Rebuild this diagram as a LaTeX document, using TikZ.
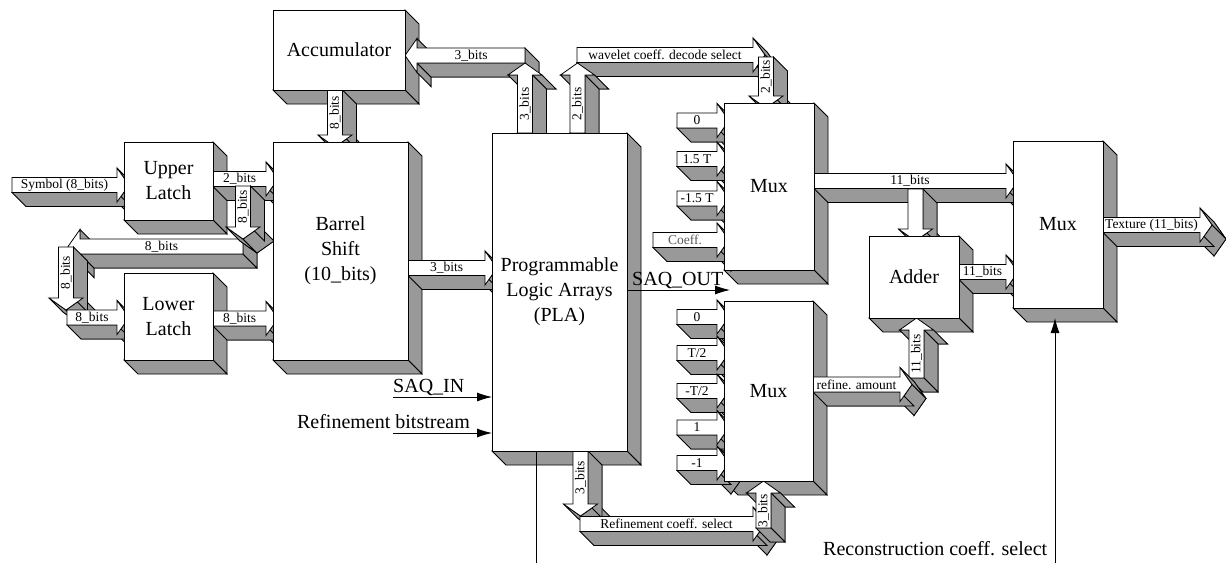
\documentclass[tikz,border=0pt]{standalone}
\usepackage{fontspec}
\setmainfont{Liberation Serif}
\usetikzlibrary{arrows.meta,calc}
\definecolor{sideC}{RGB}{153,153,153}
\definecolor{dimC}{RGB}{90,90,90}
\pgfdeclarelayer{sides}
\pgfdeclarelayer{wires}
\pgfsetlayers{sides,wires,main}

% bus geometry (pixel units)
\newcommand{\shaftW}{7.5}
\newcommand{\headW}{17}
\newcommand{\headL}{12}
\newcommand{\extr}{14}

% extruded side faces of a block
\newcommand{\blkside}[1]{%
  \draw[side] (#1.north east) -- ++(\extr,\extr) -- ([shift={(\extr,\extr)}]#1.south east) -- (#1.south east) -- cycle;
  \draw[side] (#1.south west) -- (#1.south east) -- ([shift={(\extr,\extr)}]#1.south east) -- ([shift={(\extr,\extr)}]#1.south west) -- cycle;}

% 3-D bus pointing right: [label style]{name}{tail x}{tip x}{y}{label}
\newcommand{\barR}[6][]{%
  \begin{scope}[shift={(#4,#5)}]
    \pgfmathsetmacro\blen{#4-#3}
    \def\bpoly{(-\blen,-\shaftW) -- (-\headL,-\shaftW) -- (-\headL,-\headW) -- (0,0) -- (-\headL,\headW) -- (-\headL,\shaftW) -- (-\blen,\shaftW) -- cycle}
    \draw[side, shift={(\extr,\extr)}] \bpoly;
    \draw[side] (-\headL,-\headW) -- (0,0) -- ++(\extr,\extr) -- ++(-\headL,-\headW) -- cycle;
    \draw[side] (0,0) -- (-\headL,\headW) -- ++(\extr,\extr) -- ++(\headL,-\headW) -- cycle;
    \draw[side] (-\blen,\shaftW) -- (-\headL,\shaftW) -- ++(\extr,\extr) -- ++({\headL-\blen},0) -- cycle;
    \draw[face] \bpoly;
    \node[lbl,#1] (#2) at ({-(\blen+\headL)/2},0) {#6};
  \end{scope}}

% 3-D bus pointing left: [label style]{name}{tail x}{tip x}{y}{label}
\newcommand{\barL}[6][]{%
  \begin{scope}[shift={(#4,#5)}]
    \pgfmathsetmacro\blen{#3-#4}
    \def\bpoly{(\blen,-\shaftW) -- (\headL,-\shaftW) -- (\headL,-\headW) -- (0,0) -- (\headL,\headW) -- (\headL,\shaftW) -- (\blen,\shaftW) -- cycle}
    \draw[side, shift={(\extr,\extr)}] \bpoly;
    \draw[side] (\headL,-\shaftW) -- (\headL,-\headW) -- ++(\extr,\extr) -- ++(0,{\headW-\shaftW}) -- cycle;
    \draw[side] (\headL,\shaftW) -- (\headL,\headW) -- ++(\extr,\extr) -- ++(0,{\shaftW-\headW}) -- cycle;
    \draw[side] (\headL,\shaftW) -- (\blen,\shaftW) -- ++(\extr,\extr) -- ++({\headL-\blen},0) -- cycle;
    \draw[side] (\blen,-\shaftW) -- (\blen,\shaftW) -- ++(\extr,\extr) -- ++(0,{-2*\shaftW}) -- cycle;
    \draw[face] \bpoly;
    \node[lbl,#1] (#2) at ({(\blen+\headL)/2},0) {#6};
  \end{scope}}

% 3-D bus pointing up: [label style]{name}{x}{tail y}{tip y}{label}
\newcommand{\barU}[6][]{%
  \begin{scope}[shift={(#3,#5)}]
    \pgfmathsetmacro\blen{#4-#5}
    \def\bpoly{(-\shaftW,\blen) -- (-\shaftW,\headL) -- (-\headW,\headL) -- (0,0) -- (\headW,\headL) -- (\shaftW,\headL) -- (\shaftW,\blen) -- cycle}
    \draw[side, shift={(\extr,\extr)}] \bpoly;
    \draw[side] (-\headW,\headL) -- (-\shaftW,\headL) -- ++(\extr,\extr) -- ++({\shaftW-\headW},0) -- cycle;
    \draw[side] (\shaftW,\headL) -- (\headW,\headL) -- ++(\extr,\extr) -- ++({\shaftW-\headW},0) -- cycle;
    \draw[side] (\shaftW,\headL) -- (\shaftW,\blen) -- ++(\extr,\extr) -- ++(0,{\headL-\blen}) -- cycle;
    \draw[side] (-\shaftW,\blen) -- (\shaftW,\blen) -- ++(\extr,\extr) -- ++({-2*\shaftW},0) -- cycle;
    \draw[face] \bpoly;
    \node[lbl,rotate=90,#1] (#2) at (0,{(\blen+\headL)/2}) {#6};
  \end{scope}}

% 3-D bus pointing down: [label style]{name}{x}{tail y}{tip y}{label}
\newcommand{\barD}[6][]{%
  \begin{scope}[shift={(#3,#5)}]
    \pgfmathsetmacro\blen{#5-#4}
    \def\bpoly{(-\shaftW,-\blen) -- (-\shaftW,-\headL) -- (-\headW,-\headL) -- (0,0) -- (\headW,-\headL) -- (\shaftW,-\headL) -- (\shaftW,-\blen) -- cycle}
    \draw[side, shift={(\extr,\extr)}] \bpoly;
    \draw[side] (-\headW,-\headL) -- (0,0) -- ++(\extr,\extr) -- ++(-\headW,-\headL) -- cycle;
    \draw[side] (0,0) -- (\headW,-\headL) -- ++(\extr,\extr) -- ++(-\headW,\headL) -- cycle;
    \draw[side] (\shaftW,-\blen) -- (\shaftW,-\headL) -- ++(\extr,\extr) -- ++(0,{\headL-\blen}) -- cycle;
    \draw[face] \bpoly;
    \node[lbl,rotate=90,#1] (#2) at (0,{-(\blen+\headL)/2}) {#6};
  \end{scope}}

\begin{document}
\begin{tikzpicture}[
  x=1pt, y=-1pt,  % pixel grid of the original, y pointing down
  face/.style={fill=white, draw=black, line width=0.8pt},
  side/.style={fill=sideC, draw=black, line width=0.8pt},
  blk/.style={draw=black, fill=white, line width=0.8pt, inner sep=0pt, outer sep=0pt,
              align=center, font=\fontsize{20}{25}\selectfont},
  lbl/.style={inner sep=0pt, font=\fontsize{13.5}{15}\selectfont},
  siglbl/.style={inner sep=0pt, font=\fontsize{20}{24}\selectfont},
  sig/.style={line width=0.8pt, -{Latex[length=15pt,width=9pt]}},
  wire/.style={line width=0.8pt}
]
\useasboundingbox (0,0) rectangle (1226,563);

% ---------- blocks (front faces) ----------
\node[blk, minimum width=132pt, minimum height=80pt]  (acc)  at (339,50)      {Accumulator};
\node[blk, minimum width=89pt,  minimum height=78pt]  (ul)   at (168.5,181)   {Upper\\Latch};
\node[blk, minimum width=89pt,  minimum height=87pt]  (ll)   at (168.5,316.5) {Lower\\Latch};
\node[blk, minimum width=135pt, minimum height=218pt] (bar)  at (340.5,251)   {Barrel\\Shift\\(10\_bits)};
\node[blk, minimum width=135pt, minimum height=318pt] (pla)  at (559.5,292)   {Programmable\\Logic Arrays\\(PLA)};
\node[blk, minimum width=90pt,  minimum height=167pt] (mux1) at (769,186.5)   {Mux};
\node[blk, minimum width=89pt,  minimum height=180pt] (mux2) at (768.5,391)   {Mux};
\node[blk, minimum width=90pt,  minimum height=82pt]  (add)  at (914,277)     {Adder};
\node[blk, minimum width=90pt,  minimum height=167pt] (mux3) at (1058,224.5)  {Mux};

% ---------- extruded sides ----------
\begin{pgfonlayer}{sides}
  \foreach \b in {acc,ul,ll,bar,pla,mux1,mux2,add,mux3} {\blkside{\b}}
\end{pgfonlayer}

% ---------- buses and signals ----------
\begin{pgfonlayer}{wires}
  % latches and barrel shifter
  \barR{symL}{12}{129}{185}{Symbol (8\_bits)}
  \barR{ulbL}{213}{278}{179}{2\_bits}
  \barL{loopL}{243}{68}{246.5}{8\_bits}
  \barD{uloL}{243}{186}{239}{8\_bits}
  \barD{loopdL}{66}{247}{310}{8\_bits}
  \barR{lliL}{67}{129}{317.5}{8\_bits}
  \barR{llbL}{213}{278}{318.5}{8\_bits}
  \barD{accbL}{335}{90}{147}{8\_bits}
  \barR{barplaL}{408}{497}{268}{3\_bits}

  % PLA to accumulator and first mux select
  \barL{plaaccL}{525}{405}{55.5}{3\_bits}
  \barU{plaupL}{525}{133}{63}{3\_bits}
  \barR{wavL}{577}{765}{55}{wavelet coeff. decode select}
  \barU{plaup2L}{577.5}{133}{63}{2\_bits}
  \barD{m1selL}{766}{57}{108}{2\_bits}

  % first mux inputs
  \barR{m1in0}{677}{729}{120.5}{0}
  \barR{m1in1}{677}{729}{159}{1.5 T}
  \barR{m1in2}{677}{729}{198.5}{-1.5 T}
  \barR[text=dimC]{m1in3}{653}{729}{240}{Coeff.}

  % second mux inputs
  \barR{m2in0}{677}{729}{317}{0}
  \barR{m2in1}{677}{729}{353}{T/2}
  \barR{m2in2}{677}{729}{391}{-T/2}
  \barR{m2in3}{677}{729}{427.5}{1}
  \barR{m2in4}{677}{729}{463}{-1}

  % adder and output mux
  \barR{m1m3L}{814}{1018}{181}{11\_bits}
  \barD{m1addL}{915.5}{189}{241}{}
  \barR{addm3L}{959}{1018}{272}{11\_bits}
  \barR{texL}{1103}{1212}{225}{Texture (11\_bits)}
  \barU{refaddL}{916.5}{378}{318}{11\_bits}
  \barR{refL}{813}{912}{384.5}{refine. amount}

  % refinement select
  \barD{pladnL}{580.5}{451}{516}{3\_bits}
  \barR{rcsL}{580}{765}{524}{Refinement coeff. select}
  \barU{m2selL}{763.5}{528}{481}{3\_bits}

  % thin signal lines
  \coordinate (saqinS) at (393,397);
  \draw[sig] (saqinS) -- (saqinS -| pla.west);
  \coordinate (rbsS) at (393,433);
  \draw[sig] (rbsS) -- (rbsS -| pla.west);
  \coordinate (saqoutE) at (730,290);
  \draw[sig] (saqoutE -| pla.east) -- (saqoutE);
  \coordinate (plaB) at (536,563);
  \draw[wire] (plaB) -- (plaB |- pla.south);
  \coordinate (recS) at (1055,563);
  \draw[sig] (recS) -- ($(recS |- mux3.south)+(0,10)$);
\end{pgfonlayer}

% ---------- signal labels ----------
\node[siglbl, anchor=base west] (saqinL)  at (393,392) {SAQ\_IN};
\node[siglbl, anchor=base east] (rbsL)    at (470,428) {Refinement bitstream};
\node[siglbl, anchor=base west] (saqoutL) at (632,285) {SAQ\_OUT};
\node[siglbl, anchor=base west] (recL)    at (823,555) {Reconstruction coeff. select};

\end{tikzpicture}
\end{document}
